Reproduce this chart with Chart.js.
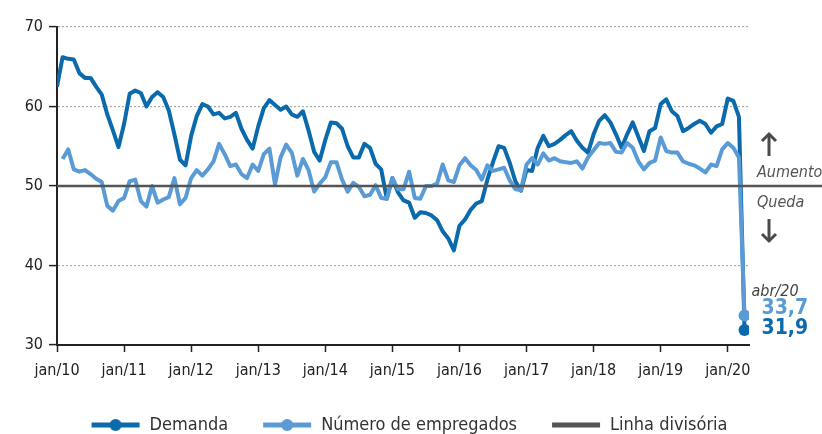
<!DOCTYPE html>
<html>
<head>
<meta charset="utf-8">
<script src="https://cdn.jsdelivr.net/npm/chart.js@4/dist/chart.umd.min.js"></script>
<style>
  html, body { margin: 0; padding: 0; background: #fff; }
  #wrap { width: 822px; height: 434px; }
</style>
</head>
<body>
<div id="wrap"><canvas id="myChart"></canvas></div>
<script>
const FONT = "'DejaVu Sans Condensed', 'DejaVu Sans', sans-serif";

// x ticks, one per january
const tick_labels = ['jan/10', 'jan/11', 'jan/12', 'jan/13', 'jan/14', 'jan/15', 'jan/16', 'jan/17', 'jan/18', 'jan/19', 'jan/20'];
const last_label = 'abr/20';

// monthly, jan/10 .. abr/20
const demanda = [
  62.5, 66.2, 66.0, 65.9, 64.2, 63.6, 63.6, 62.5, 61.5, 59.0, 57.0, 54.9,
  57.8, 61.6, 62.0, 61.7, 60.0, 61.2, 61.8, 61.2, 59.5, 56.5, 53.3, 52.6,
  56.3, 58.8, 60.3, 60.0, 59.0, 59.2, 58.5, 58.7, 59.2, 57.2, 55.8, 54.7,
  57.5, 59.8, 60.8, 60.2, 59.6, 60.0, 59.0, 58.7, 59.4, 57.0, 54.3, 53.2,
  55.8, 58.0, 57.9, 57.2, 55.0, 53.6, 53.6, 55.3, 54.8, 52.8, 52.1, 48.4,
  51.0, 49.2, 48.2, 47.9, 46.0, 46.7, 46.6, 46.3, 45.7, 44.3, 43.4, 41.9,
  45.0, 45.8, 47.0, 47.8, 48.1, 50.8, 53.0, 55.0, 54.8, 52.9, 50.6, 49.4,
  52.0, 51.9, 54.8, 56.3, 55.0, 55.3, 55.8, 56.4, 56.9, 55.7, 54.8, 54.2,
  56.5, 58.2, 58.9, 58.0, 56.5, 54.8, 56.5, 58.0, 56.2, 54.4, 56.9, 57.3,
  60.3, 60.9, 59.4, 58.8, 56.9, 57.3, 57.8, 58.2, 57.8, 56.7, 57.5, 57.8,
  61.0, 60.7, 58.7, 31.9
];
const empregados = [
  null, 53.4, 54.6, 52.1, 51.8, 52.0, 51.5, 50.9, 50.5, 47.5, 46.9, 48.1,
  48.5, 50.6, 50.8, 48.1, 47.4, 50.0, 47.9, 48.3, 48.6, 51.0, 47.7, 48.5,
  51.0, 52.0, 51.3, 52.1, 53.1, 55.3, 54.0, 52.5, 52.7, 51.5, 51.0, 52.7,
  51.9, 54.0, 54.7, 50.2, 53.6, 55.2, 54.2, 51.3, 53.4, 52.0, 49.3, 50.3,
  51.1, 53.0, 53.0, 50.8, 49.3, 50.4, 49.9, 48.7, 48.9, 50.1, 48.5, 48.4,
  51.0, 49.6, 49.6, 51.8, 48.5, 48.4, 50.0, 50.0, 50.3, 52.7, 50.7, 50.5,
  52.6, 53.5, 52.6, 52.0, 50.8, 52.6, 51.9, 52.1, 52.3, 50.7, 49.6, 49.5,
  52.7, 53.5, 52.7, 54.1, 53.2, 53.5, 53.1, 53.0, 52.9, 53.1, 52.2, 53.6,
  54.5, 55.4, 55.3, 55.4, 54.3, 54.2, 55.4, 54.8, 53.1, 52.1, 52.9, 53.2,
  56.1, 54.4, 54.2, 54.2, 53.1, 52.8, 52.6, 52.2, 51.7, 52.7, 52.5, 54.6,
  55.4, 54.8, 53.6, 33.7
];
// divider at 50, running out past the plot to the right edge
const divisoria_x = [0, 140];
const divisoria_y = [50, 50];

const DARK = '#0b6aac';
const LIGHT = '#5b9bd5';
const GREY = '#555555';

const last = demanda.length - 1;
const toXY = arr => arr.map((v, i) => ({x: i, y: v}));
const fmt = v => v.toFixed(1).replace('.', ',');

// legend marker: blank gap on the left, then the line (with dot)
const GAP = 30;
function legend_icon(color, dot){
  const c = document.createElement('canvas');
  c.width = 50 + GAP; c.height = 14;
  const g = c.getContext('2d');
  g.strokeStyle = color; g.lineWidth = 5;
  g.beginPath(); g.moveTo(GAP + 1, 7); g.lineTo(GAP + 49, 7); g.stroke();
  if(dot){
    g.fillStyle = color;
    g.beginPath(); g.arc(GAP + 25, 7, 6, 0, Math.PI * 2); g.fill();
  }
  return c;
}
const icons = [legend_icon(DARK, true), legend_icon(LIGHT, true), legend_icon(GREY, false)];

function arrow(ctx, x, yTail, yTip){
  const dir = yTip < yTail ? -1 : 1;
  ctx.save();
  ctx.strokeStyle = '#4a4a4a';
  ctx.lineWidth = 3;
  ctx.beginPath();
  ctx.moveTo(x, yTail); ctx.lineTo(x, yTip - dir * 1);
  ctx.stroke();
  ctx.beginPath();
  ctx.moveTo(x - 7, yTip - dir * 7);
  ctx.lineTo(x, yTip);
  ctx.lineTo(x + 7, yTip - dir * 7);
  ctx.stroke();
  ctx.restore();
}

const notes = {
  id: 'notes',
  afterLayout(chart){
    // legend: centre on the whole canvas and drop it a little lower
    const lg = chart.legend;
    const shift = (chart.width - (lg.left + lg.right)) / 2 - 17;
    lg.left += shift; lg.right += shift;
    lg.top += 10; lg.bottom += 10;
  },
  afterDatasetsDraw(chart){
    const {ctx, chartArea, scales: {x, y}} = chart;
    const y50 = y.getPixelForValue(50);
    const tx = chartArea.right + 8;
    const ax = chartArea.right + 20;
    arrow(ctx, ax, y50 - 30, y50 - 52);
    arrow(ctx, ax, y50 + 33, y50 + 55);
    ctx.save();
    ctx.fillStyle = '#555';
    ctx.textBaseline = 'middle';
    ctx.textAlign = 'left';
    ctx.font = 'italic 16px ' + FONT;
    ctx.fillText('Aumento', tx, y50 - 13);
    ctx.fillText('Queda', tx, y50 + 17);

    const xl = x.getPixelForValue(last);
    const yE = y.getPixelForValue(empregados[last]);
    const yD = y.getPixelForValue(demanda[last]);
    ctx.fillStyle = '#444';
    ctx.fillText(last_label, xl + 7, yE - 24);
    ctx.font = 'bold 21px ' + FONT;
    ctx.fillStyle = LIGHT;
    ctx.fillText(fmt(empregados[last]), xl + 17, yE - 7);
    ctx.fillStyle = DARK;
    ctx.fillText(fmt(demanda[last]), xl + 17, yD - 1);
    ctx.restore();
  }
};

const lastDot = c => c.dataIndex === last ? 6 : 0;

const ctx = document.getElementById('myChart');
new Chart(ctx, {
  type: 'line',
  data: {
    datasets: [
      {
        label: 'Demanda',
        data: toXY(demanda),
        borderColor: DARK, backgroundColor: DARK,
        borderWidth: 4, pointRadius: lastDot, pointBorderWidth: 0,
        order: 2
      },
      {
        label: 'Número de empregados',
        data: toXY(empregados),
        borderColor: LIGHT, backgroundColor: LIGHT,
        borderWidth: 4, pointRadius: lastDot, pointBorderWidth: 0,
        order: 1
      },
      {
        label: 'Linha divisória',
        data: divisoria_x.map((v, i) => ({x: v, y: divisoria_y[i]})),
        borderColor: GREY, backgroundColor: GREY,
        borderWidth: 2.5, pointRadius: 0,
        clip: false,
        order: 0
      }
    ]
  },
  options: {
    responsive: true,
    maintainAspectRatio: false,
    animation: false,
    events: [],
    layout: { padding: { left: 0, right: 73, top: 27, bottom: 0 } },
    elements: { line: { tension: 0, borderJoinStyle: 'round' } },
    scales: {
      x: {
        type: 'linear',
        min: 0,
        max: 123.8,
        afterFit: s => { s.height = 57; },
        grid: { drawOnChartArea: false, tickLength: 7, tickColor: '#222', tickWidth: 1.5 },
        border: { color: '#222', width: 2 },
        ticks: {
          stepSize: 12,
          includeBounds: false,
          autoSkip: false,
          maxRotation: 0,
          padding: 9,
          color: '#222',
          font: { family: FONT, size: 16 },
          callback: v => tick_labels[v / 12]
        }
      },
      y: {
        min: 30,
        max: 70,
        afterFit: s => { s.width = 57; },
        grid: {
          color: c => (c.tick && (c.tick.value === 50 || c.tick.value === 30)) ? 'rgba(0,0,0,0)' : '#a8a8a8',
          lineWidth: 1.2,
          tickLength: 8,
          tickColor: '#222',
          tickWidth: 1.5
        },
        border: { color: '#222', width: 2, dash: [2, 2] },
        ticks: {
          stepSize: 10,
          padding: 6,
          color: '#222',
          font: { family: FONT, size: 16 }
        }
      }
    },
    plugins: {
      tooltip: { enabled: false },
      legend: {
        position: 'bottom',
        labels: {
          usePointStyle: true,
          pointStyleWidth: 50 + GAP,
          padding: 4,
          color: '#333',
          font: { family: FONT, size: 18 },
          sort: (a, b) => a.datasetIndex - b.datasetIndex,
          generateLabels: chart => Chart.defaults.plugins.legend.labels.generateLabels(chart).map(item => {
            item.pointStyle = icons[item.datasetIndex];
            return item;
          })
        }
      }
    }
  },
  plugins: [notes]
});
</script>
</body>
</html>
